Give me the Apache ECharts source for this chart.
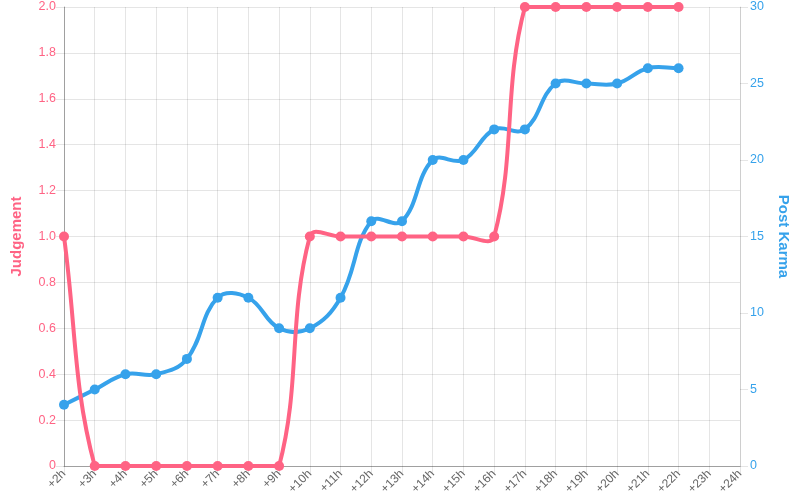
<!DOCTYPE html>
<html>
<head>
<meta charset="utf-8">
<script src="https://cdn.jsdelivr.net/npm/echarts@6/dist/echarts.min.js"></script>
<style>html,body{margin:0;padding:0;background:#fff}#c{width:800px;height:500px}</style>
</head>
<body>
<div id="c"></div>
<script>
var categories = ['+2h','+3h','+4h','+5h','+6h','+7h','+8h','+9h','+10h','+11h','+12h','+13h','+14h','+15h','+16h','+17h','+18h','+19h','+20h','+21h','+22h','+23h','+24h'];
var judgement = [1,0,0,0,0,0,0,0,1,1,1,1,1,1,1,2,2,2,2,2,2,null,null];
var postKarma = [4,5,6,6,7,11,11,9,9,11,16,16,20,20,22,22,25,25,25,26,26,null,null];
var leftTicks = [0,0.2,0.4,0.6,0.8,1.0,1.2,1.4,1.6,1.8,2.0];
var rightTicks = [0,5,10,15,20,25,30];

var RED = '#ff6384', BLUE = '#36a2eb', FONT = 'Liberation Sans';
var TENSION = 0.4;

function spline(prev, cur, next, t) {
  var d01 = Math.hypot(cur[0]-prev[0], cur[1]-prev[1]);
  var d12 = Math.hypot(next[0]-cur[0], next[1]-cur[1]);
  var s01 = d01 / (d01 + d12), s12 = d12 / (d01 + d12);
  if (isNaN(s01)) s01 = 0; if (isNaN(s12)) s12 = 0;
  var fa = t * s01, fb = t * s12;
  return {
    prev: [cur[0] - fa*(next[0]-prev[0]), cur[1] - fa*(next[1]-prev[1])],
    next: [cur[0] + fb*(next[0]-prev[0]), cur[1] + fb*(next[1]-prev[1])]
  };
}

function curveSeries(values, color, axisIndex, z) {
  var pts = [];
  values.forEach(function(v, i){ if (v != null) pts.push([i, v]); });
  return {
    type: 'custom', coordinateSystem: 'cartesian2d', yAxisIndex: axisIndex,
    data: pts, encode: {x: 0, y: 1}, z: z, silent: true, clip: false,
    renderItem: function(params, api) {
      var k = params.dataIndex;
      if (k >= pts.length - 1) return null;
      var cs = params.coordSys;
      function P(j){ j = Math.max(0, Math.min(pts.length-1, j)); return api.coord(pts[j]); }
      var p0 = P(k-1), p1 = P(k), p2 = P(k+1), p3 = P(k+2);
      var a = spline(p0, p1, p2, TENSION).next;
      var b = spline(p1, p2, p3, TENSION).prev;
      function cap(p){ return [Math.max(cs.x, Math.min(cs.x+cs.width, p[0])), Math.max(cs.y, Math.min(cs.y+cs.height, p[1]))]; }
      a = cap(a); b = cap(b);
      return {
        type: 'bezierCurve',
        shape: {x1: p1[0], y1: p1[1], x2: p2[0], y2: p2[1], cpx1: a[0], cpy1: a[1], cpx2: b[0], cpy2: b[1]},
        style: {stroke: color, lineWidth: 4, fill: null, lineCap: 'round', lineJoin: 'round'}
      };
    }
  };
}

function pointSeries(values, color, axisIndex, z) {
  return {
    type: 'line', yAxisIndex: axisIndex, data: values, z: z,
    symbol: 'circle', symbolSize: 10, showSymbol: true,
    lineStyle: {width: 0, opacity: 0}, itemStyle: {color: color}
  };
}

var chart = echarts.init(document.getElementById('c'), null, {renderer:'canvas'});
chart.setOption({
  animation: false,
  grid: {left: 64, right: 60, top: 7, bottom: 34, containLabel: false},
  xAxis: {
    type: 'category', data: categories, boundaryGap: false,
    axisLine: {lineStyle: {color: 'rgba(0,0,0,0.3)'}},
    axisTick: {show: true, length: 8, lineStyle: {color: 'rgba(0,0,0,0.1)'}, alignWithLabel: true},
    axisLabel: {rotate: 45, color: '#666', fontFamily: FONT, fontSize: 12, margin: 6, interval: 0},
    splitLine: {show: true, lineStyle: {color: 'rgba(0,0,0,0.1)'}}
  },
  yAxis: [{
    type: 'value', min: leftTicks[0], max: leftTicks[leftTicks.length-1], interval: 0.2, position: 'left',
    name: 'Judgement', nameLocation: 'middle', nameGap: 40, nameRotate: 90,
    nameTextStyle: {color: RED, fontFamily: FONT, fontSize: 15, fontWeight: 'bold'},
    axisLine: {show: true, lineStyle: {color: 'rgba(0,0,0,0.3)'}},
    axisTick: {show: true, length: 8, lineStyle: {color: 'rgba(0,0,0,0.1)'}},
    axisLabel: {color: RED, fontFamily: FONT, fontSize: 12.5, margin: 8,
      formatter: function(v){ return v === 0 ? '0' : v.toFixed(1); }},
    splitLine: {show: true, lineStyle: {color: 'rgba(0,0,0,0.1)'}}
  },{
    type: 'value', min: rightTicks[0], max: rightTicks[rightTicks.length-1], interval: 5, position: 'right',
    name: 'Post Karma', nameLocation: 'middle', nameGap: 36, nameRotate: -90,
    nameTextStyle: {color: BLUE, fontFamily: FONT, fontSize: 15, fontWeight: 'bold'},
    axisLine: {show: true, lineStyle: {color: 'rgba(0,0,0,0.1)'}},
    axisTick: {show: true, length: 8, lineStyle: {color: 'rgba(0,0,0,0.1)'}},
    axisLabel: {color: BLUE, fontFamily: FONT, fontSize: 12.5, margin: 10},
    splitLine: {show: false}
  }],
  series: [
    curveSeries(postKarma, BLUE, 1, 2),
    pointSeries(postKarma, BLUE, 1, 3),
    curveSeries(judgement, RED, 0, 4),
    pointSeries(judgement, RED, 0, 5)
  ]
});
</script>
</body>
</html>
